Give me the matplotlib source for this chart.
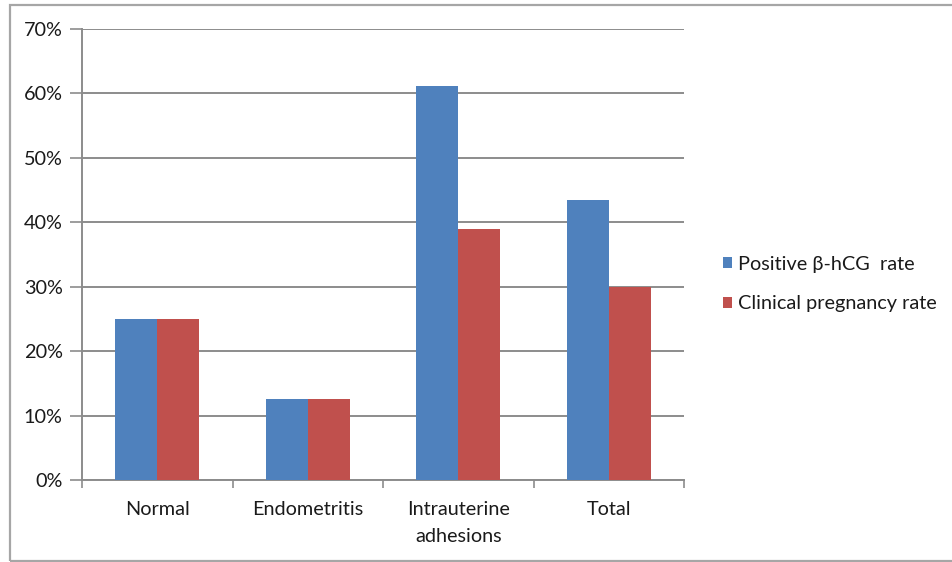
import matplotlib
matplotlib.use("Agg")
import matplotlib.pyplot as plt
import numpy as np
from matplotlib.patches import Rectangle

plt.rcParams['font.family'] = ['Lato', 'DejaVu Sans']

categories = ["Normal", "Endometritis", "Intrauterine\nadhesions", "Total"]
positive_hcg = [25.0, 12.5, 61.1, 43.4]
clinical_pregnancy = [25.0, 12.5, 39.0, 30.0]
series_names = ["Positive β-hCG  rate", "Clinical pregnancy rate"]
y_ticks = [0, 10, 20, 30, 40, 50, 60, 70]

BLUE = "#4F81BD"
RED = "#C0504D"
GRID = "#8C8C8C"
TEXT = "#1A1A1A"
FS = 14.3

fig = plt.figure(figsize=(9.52, 5.62), dpi=100)
fig.patch.set_facecolor("white")

# outer chart frame
fig.patches.append(Rectangle((9.5 / 952, 1.0 / 562), 1.2, (557 - 1.0) / 562,
                             transform=fig.transFigure, fill=False,
                             edgecolor="#A6A6A6", linewidth=1.6))

ax = fig.add_axes([82 / 952, (562 - 480) / 562, (684 - 82) / 952, (480 - 29) / 562])

x = np.arange(len(categories))
w = 0.28
ax.bar(x - w / 2, positive_hcg, width=w, color=BLUE, label=series_names[0], zorder=3)
ax.bar(x + w / 2, clinical_pregnancy, width=w, color=RED, label=series_names[1], zorder=3)

ax.set_xlim(-0.5, len(categories) - 0.5)
ax.set_ylim(0, 70)
ax.set_yticks(y_ticks)
ax.set_yticklabels([f"{v}%" for v in y_ticks], fontsize=FS, color=TEXT)
ax.yaxis.grid(True, color=GRID, linewidth=1.4, zorder=0)
ax.set_axisbelow(True)

# category boundaries as tick marks, names centred between them
ax.set_xticks(np.arange(len(categories) + 1) - 0.5)
ax.set_xticklabels([])
ax.set_xticks(x, minor=True)
ax.set_xticklabels(categories, minor=True, fontsize=FS, color=TEXT, linespacing=1.75, va="top")
ax.tick_params(axis="x", which="major", length=6, width=1.2, color=GRID, direction="out")
ax.tick_params(axis="x", which="minor", length=0, pad=15)
ax.tick_params(axis="y", length=9, width=1.2, color=GRID, pad=5)

for side in ("top", "right"):
    ax.spines[side].set_visible(False)
for side in ("left", "bottom"):
    ax.spines[side].set_color(GRID)
    ax.spines[side].set_linewidth(1.4)

leg = fig.legend(loc="center left", bbox_to_anchor=(705 / 952, 1 - 284 / 562),
                 frameon=False, fontsize=FS, handlelength=0.45, handleheight=0.45,
                 handletextpad=0.3, labelspacing=1.15)
for t in leg.get_texts():
    t.set_color(TEXT)

fig.savefig("out.png", dpi=100, facecolor="white")
